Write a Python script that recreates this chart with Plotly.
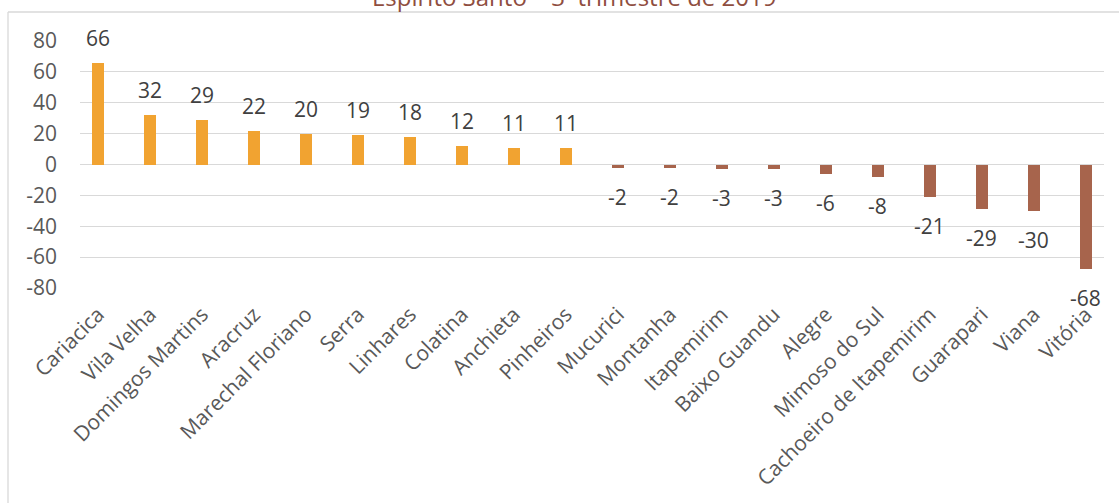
import plotly.graph_objects as go

# Saldo por município
municipios = [
    "Cariacica", "Vila Velha", "Domingos Martins", "Aracruz", "Marechal Floriano",
    "Serra", "Linhares", "Colatina", "Anchieta", "Pinheiros", "Mucurici",
    "Montanha", "Itapemirim", "Baixo Guandu", "Alegre", "Mimoso do Sul",
    "Cachoeiro de Itapemirim", "Guarapari", "Viana", "Vitória",
]
saldo = [66, 32, 29, 22, 20, 19, 18, 12, 11, 11, -2, -2, -3, -3, -6, -8, -21, -29, -30, -68]
y_ticks = [80, 60, 40, 20, 0, -20, -40, -60, -80]

COR_POS = "#F1A331"
COR_NEG = "#A7644C"
GRADE = "#D9D9D9"

W, H = 1119, 503
ML, MR, MT, MB = 80, 15, 41, 215
plot_w = W - ML - MR
plot_h = H - MT - MB

cores = [COR_POS if v >= 0 else COR_NEG for v in saldo]
x_idx = list(range(len(municipios)))

fig = go.Figure()
fig.add_trace(go.Bar(
    x=x_idx, y=saldo, marker=dict(color=cores, line=dict(width=0)),
    width=0.22, hoverinfo="skip",
))

# Rótulos de dados
for i, v in zip(x_idx, saldo):
    fig.add_annotation(
        x=i, y=v, xref="x", yref="y", text=str(v), showarrow=False,
        yshift=25 if v >= 0 else -29,
        font=dict(family="Open Sans", size=21, color="#404040"),
    )

def px_x(p):
    return (p - ML) / plot_w

def px_y(p):
    return (MT + plot_h - p) / plot_h

# Título
fig.add_annotation(
    x=px_x(574), y=px_y(-4), xref="paper", yref="paper",
    text="Espírito Santo – 3<sup>º</sup> trimestre de 2019", showarrow=False,
    xanchor="center", yanchor="middle",
    font=dict(family="Open Sans", size=24, color="#8F4E3F"),
)

# Moldura
fig.add_shape(type="line", xref="paper", yref="paper",
              x0=px_x(8), x1=px_x(W + 2), y0=px_y(12), y1=px_y(12),
              line=dict(color=GRADE, width=1.3))
fig.add_shape(type="line", xref="paper", yref="paper",
              x0=px_x(8), x1=px_x(8), y0=px_y(12), y1=px_y(H + 2),
              line=dict(color=GRADE, width=1.3))

fig.update_layout(
    width=W, height=H,
    margin=dict(l=ML, r=MR, t=MT, b=MB),
    paper_bgcolor="white", plot_bgcolor="white",
    showlegend=False, bargap=0,
    font=dict(family="Open Sans", color="#595959"),
    xaxis=dict(
        range=[-0.35, 19.35], tickmode="array", tickvals=x_idx, ticktext=municipios,
        tickangle=-45, showgrid=False, zeroline=False, showline=False,
        tickfont=dict(size=21, color="#595959"), ticks="", ticklabelstandoff=9,
    ),
    yaxis=dict(
        range=[-80, 80], tickmode="array", tickvals=y_ticks,
        ticktext=[str(t) for t in y_ticks],
        showgrid=True, gridcolor=GRADE, gridwidth=1.3,
        zeroline=True, zerolinecolor=GRADE, zerolinewidth=1.3,
        showline=False, ticks="", ticklabelstandoff=22,
        tickfont=dict(size=21, color="#595959"),
    ),
)

fig.write_html("out.html")
